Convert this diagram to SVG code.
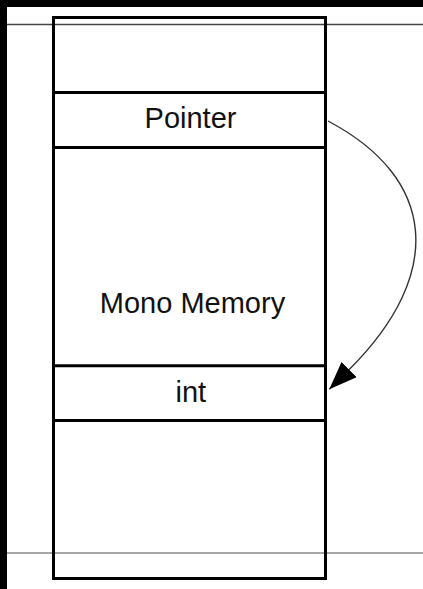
<svg xmlns="http://www.w3.org/2000/svg" width="423" height="589" viewBox="0 0 423 589">
  <style>
    .cell { fill: none; stroke: #000; stroke-width: 3; }
    .sep { stroke: #000; stroke-width: 3; }
    .label { font-family: "Liberation Sans", Arial, sans-serif; font-size: 29px; fill: #111; text-anchor: middle; }
    .guide { stroke-width: 1.3; }
    .link { fill: none; stroke: #333; stroke-width: 1.4; }
  </style>
  <defs>
    <marker id="arrow" markerUnits="userSpaceOnUse" markerWidth="30" markerHeight="24" refX="28" refY="10.8" orient="auto">
      <path d="M0,0 L28,10.8 L0,21.6 z" fill="#000"/>
    </marker>
  </defs>

  <!-- page background and frame edges -->
  <rect x="0" y="0" width="423" height="589" fill="#fff"/>
  <rect x="0" y="0" width="423" height="7" fill="#000"/>
  <rect x="0" y="0" width="7" height="589" fill="#000"/>
  <line class="guide" x1="7" y1="24.5" x2="423" y2="24.5" stroke="#444"/>
  <line class="guide" x1="7" y1="553" x2="423" y2="553" stroke="#888"/>

  <!-- memory column -->
  <g id="memory">
    <rect class="cell" x="53.5" y="17.5" width="272" height="561"/>
  </g>
  <g id="top-slot">
    <line class="sep" x1="53.5" y1="92.5" x2="325.5" y2="92.5"/>
  </g>
  <g id="pointer">
    <line class="sep" x1="53.5" y1="147.5" x2="325.5" y2="147.5"/>
    <text class="label" x="190.5" y="127.5">Pointer</text>
  </g>
  <g id="mono-memory">
    <text class="label" x="192.5" y="312.5">Mono Memory</text>
  </g>
  <g id="int">
    <line class="sep" x1="53.5" y1="365.8" x2="325.5" y2="365.8"/>
    <line class="sep" x1="53.5" y1="420.5" x2="325.5" y2="420.5"/>
    <text class="label" x="190.8" y="401.7">int</text>
  </g>

  <!-- reference from the pointer slot to the int slot -->
  <g id="connectors">
    <path class="link" d="M328,121 C436,178 446,273 349.2,369.5 L329.3,389.3" marker-end="url(#arrow)"/>
  </g>
</svg>
